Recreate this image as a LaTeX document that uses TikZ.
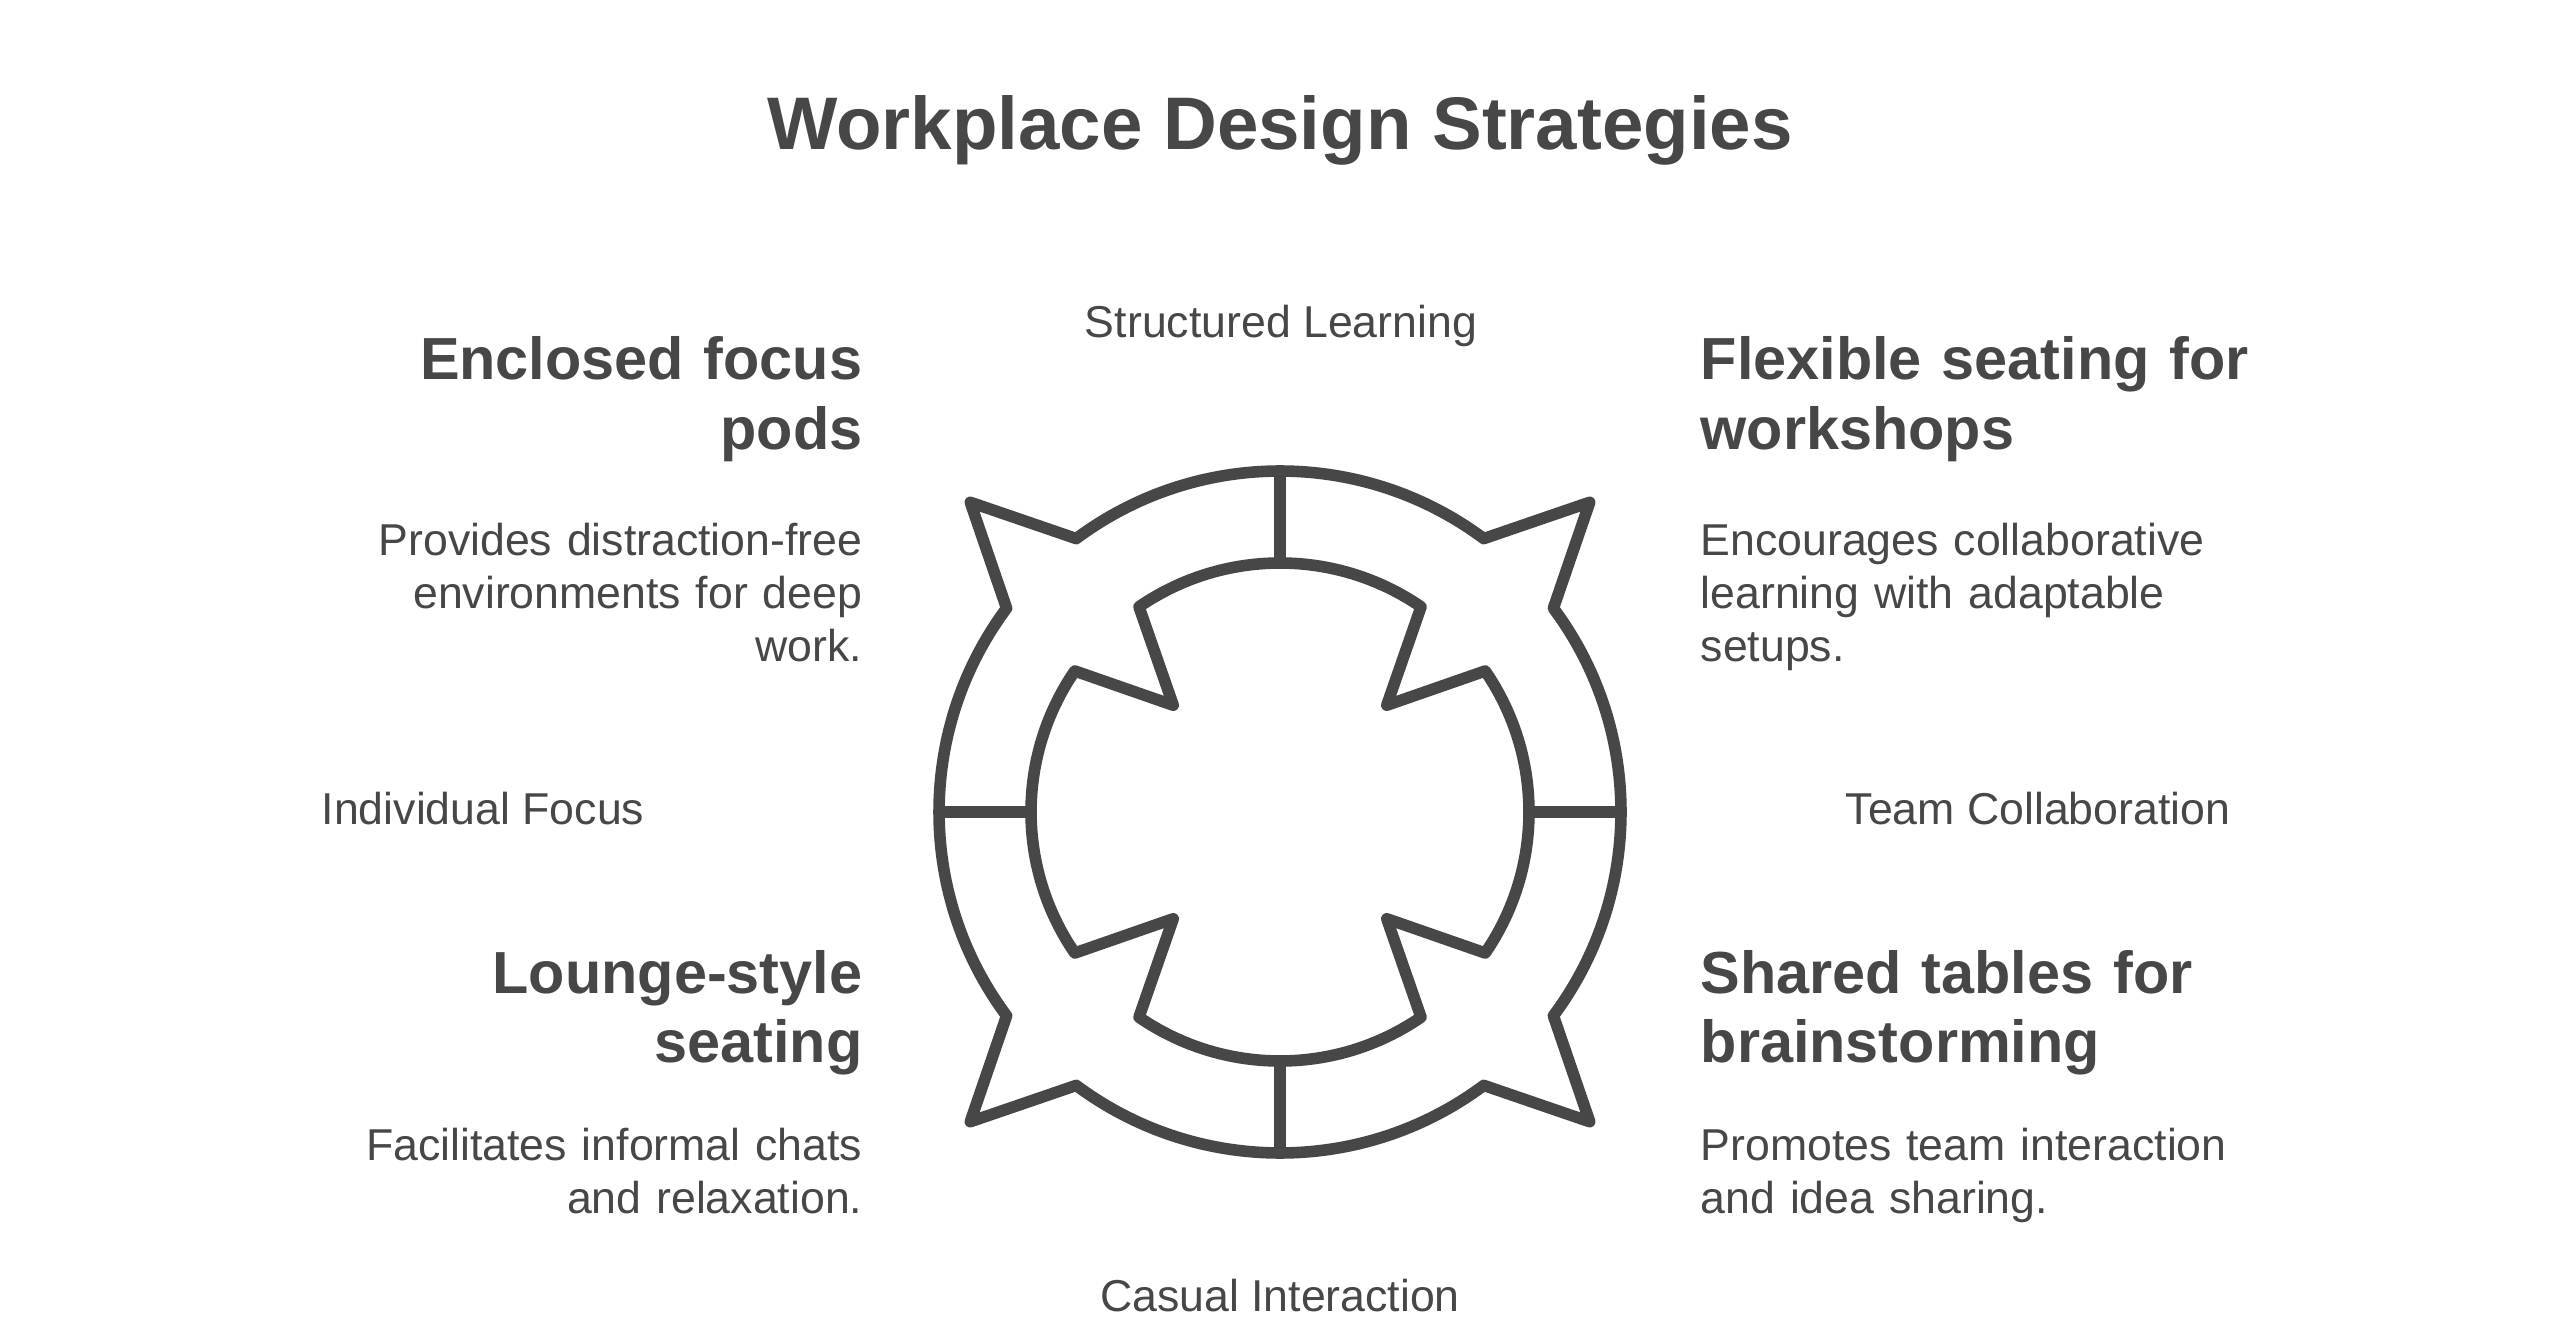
\documentclass[tikz,border=0pt]{standalone}
\usepackage{fontspec}
\setmainfont{Liberation Sans}
\usetikzlibrary{positioning}
\definecolor{inkgray}{HTML}{474747}

\begin{document}
\begin{tikzpicture}[
		ring/.style={draw=inkgray, line width=3.3pt, line join=round, line cap=round},
		title/.style={inner sep=0pt, text=inkgray, font=\fontsize{21.2}{25}\selectfont\bfseries},
		headleft/.style={inner sep=0pt, text=inkgray, text width=7cm, align=right,
			font=\fontsize{16.9}{19.9}\selectfont\bfseries},
		headright/.style={headleft, align=left},
		bodyleft/.style={inner sep=0pt, text=inkgray, text width=7cm, align=right,
			font=\fontsize{12.7}{15.2}\selectfont},
		bodyright/.style={bodyleft, align=left},
		axislabel/.style={inner sep=0pt, text=inkgray, font=\fontsize{12.7}{15.2}\selectfont}
		]
		\useasboundingbox[fill=white] (0,0) rectangle (25.6,13.27);
		\node[title, anchor=base](Title) at (12.80,11.77){Workplace Design Strategies};
		% axis labels
		\node[axislabel, anchor=base](Structured) at (12.81,9.89){Structured Learning};
		\node[axislabel, anchor=base](Casual) at (12.80,0.16){Casual Interaction};
		\node[axislabel, anchor=base](Individual) at (4.83,5.03){Individual Focus};
		\node[axislabel, anchor=base](Team) at (20.38,5.03){Team Collaboration};
		% the four strategies
		\node[headleft, anchor=base east](PodsHead) at (8.63,9.47){Enclosed focus\\pods};
		\node[bodyleft, anchor=base east](PodsText) at (8.63,7.72){Provides distraction-free\\environments for deep\\work.};
		\node[headright, anchor=base west](WorkshopHead) at (17.00,9.47){Flexible seating for\\workshops};
		\node[bodyright, anchor=base west](WorkshopText) at (17.00,7.72){Encourages collaborative\\learning with adaptable\\setups.};
		\node[headleft, anchor=base east](LoungeHead) at (8.63,3.34){Lounge-style\\seating};
		\node[bodyleft, anchor=base east](LoungeText) at (8.63,1.67){Facilitates informal chats\\and relaxation.};
		\node[headright, anchor=base west](TablesHead) at (17.00,3.34){Shared tables for\\brainstorming};
		\node[bodyright, anchor=base west](TablesText) at (17.00,1.67){Promotes team interaction\\and idea sharing.};
		% the ring
		\begin{scope}[shift={(12.80,5.15)}]
			\draw[ring] (36.7:3.41) -- (45:4.38) -- (53.3:3.41)
				arc[start angle=53.3, end angle=126.7, radius=3.41] -- (135:4.38) -- (143.3:3.41)
				arc[start angle=143.3, end angle=216.7, radius=3.41] -- (225:4.38) -- (233.3:3.41)
				arc[start angle=233.3, end angle=306.7, radius=3.41] -- (315:4.38) -- (323.3:3.41)
				arc[start angle=323.3, end angle=396.7, radius=3.41] -- cycle;
			\draw[ring] (34.5:2.49) -- (45:1.51) -- (55.5:2.49)
				arc[start angle=55.5, end angle=124.5, radius=2.49] -- (135:1.51) -- (145.5:2.49)
				arc[start angle=145.5, end angle=214.5, radius=2.49] -- (225:1.51) -- (235.5:2.49)
				arc[start angle=235.5, end angle=304.5, radius=2.49] -- (315:1.51) -- (325.5:2.49)
				arc[start angle=325.5, end angle=394.5, radius=2.49] -- cycle;
			\draw[ring] (0:2.49) -- (0:3.41);
			\draw[ring] (90:2.49) -- (90:3.41);
			\draw[ring] (180:2.49) -- (180:3.41);
			\draw[ring] (270:2.49) -- (270:3.41);
		\end{scope}
	\end{tikzpicture}
\end{document}
